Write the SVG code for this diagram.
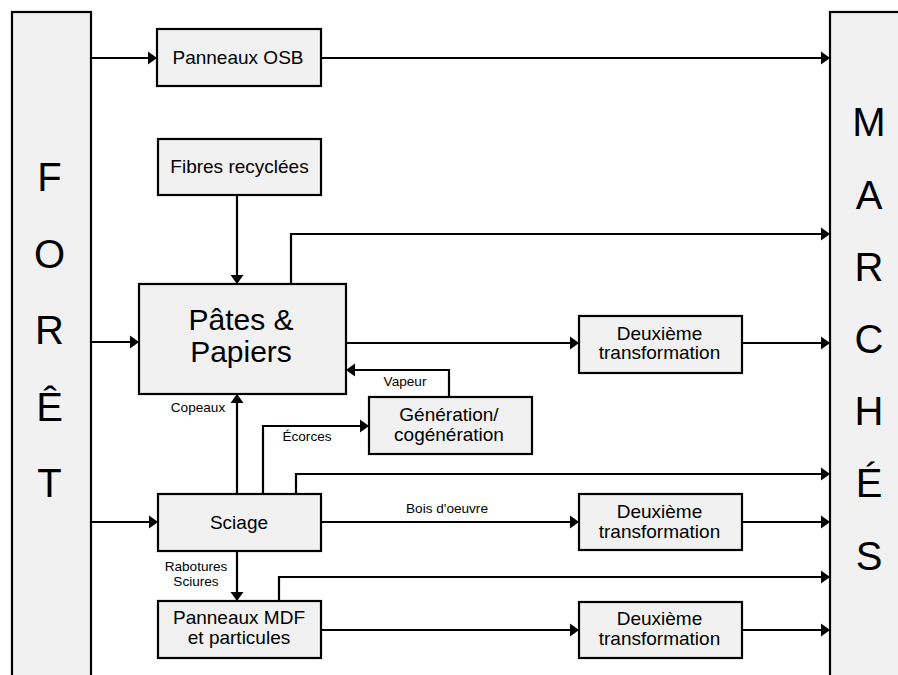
<svg xmlns="http://www.w3.org/2000/svg" width="898" height="675" viewBox="0 0 898 675">
<style>
.box{fill:#f1f1f1;stroke:#000;stroke-width:2.2}
.t{font-family:"Liberation Sans",Arial,sans-serif;fill:#000;text-anchor:middle}
.b{font-size:19px}
.s{font-size:13.6px}
.big{font-size:30px}
.col{font-size:40px}
.c{fill:none;stroke:#000;stroke-width:2.2}
</style>
<defs>
<marker id="ah" markerUnits="userSpaceOnUse" markerWidth="10" markerHeight="14" refX="9" refY="6.5" orient="auto" viewBox="0 0 10 13">
<path d="M0,0 L9,6.5 L0,13 z" fill="#000"/>
</marker>
</defs>
<rect width="898" height="675" fill="#fff"/>
<g id="foret">
<rect class="box" x="12" y="12" width="79" height="690"/>
<text class="t col" x="49.5" y="191">F</text>
<text class="t col" x="49.5" y="267.5">O</text>
<text class="t col" x="49.5" y="344">R</text>
<text class="t col" x="49.5" y="420.5">Ê</text>
<text class="t col" x="49.5" y="497">T</text>
</g>
<g id="marches">
<rect class="box" x="830" y="12" width="90" height="690"/>
<text class="t col" x="869" y="136">M</text>
<text class="t col" x="869" y="208.5">A</text>
<text class="t col" x="869" y="281">R</text>
<text class="t col" x="869" y="353">C</text>
<text class="t col" x="869" y="424.5">H</text>
<text class="t col" x="869" y="497">É</text>
<text class="t col" x="869" y="570">S</text>
</g>
<g id="connectors">
<line class="c" x1="91" y1="58" x2="157" y2="58" marker-end="url(#ah)"/>
<line class="c" x1="321" y1="58" x2="830" y2="58" marker-end="url(#ah)"/>
<line class="c" x1="237" y1="195" x2="237" y2="284" marker-end="url(#ah)"/>
<path class="c" d="M291,284 V234 H830" marker-end="url(#ah)"/>
<line class="c" x1="91" y1="342" x2="139" y2="342" marker-end="url(#ah)"/>
<line class="c" x1="346" y1="343" x2="579" y2="343" marker-end="url(#ah)"/>
<line class="c" x1="742" y1="343" x2="830" y2="343" marker-end="url(#ah)"/>
<path class="c" d="M449,397 V370 H346" marker-end="url(#ah)"/>
<path class="c" d="M263,494 V426 H369" marker-end="url(#ah)"/>
<line class="c" x1="237" y1="494" x2="237" y2="394" marker-end="url(#ah)"/>
<line class="c" x1="91" y1="522" x2="158" y2="522" marker-end="url(#ah)"/>
<path class="c" d="M296,494 V474 H830" marker-end="url(#ah)"/>
<line class="c" x1="321" y1="522" x2="579" y2="522" marker-end="url(#ah)"/>
<line class="c" x1="742" y1="522" x2="830" y2="522" marker-end="url(#ah)"/>
<line class="c" x1="237" y1="551" x2="237" y2="601" marker-end="url(#ah)"/>
<path class="c" d="M279,601 V577 H830" marker-end="url(#ah)"/>
<line class="c" x1="321" y1="630" x2="579" y2="630" marker-end="url(#ah)"/>
<line class="c" x1="742" y1="630" x2="830" y2="630" marker-end="url(#ah)"/>
<text class="t s" x="405" y="386">Vapeur</text>
<text class="t s" x="198" y="412">Copeaux</text>
<text class="t s" x="307" y="441">Écorces</text>
<text class="t s" x="447" y="513">Bois d'oeuvre</text>
<text class="t s" x="196" y="571">Rabotures</text>
<text class="t s" x="196" y="586">Sciures</text>
</g>
<g id="osb">
<rect class="box" x="157" y="29" width="164" height="57"/>
<text class="t b" x="238" y="64">Panneaux OSB</text>
</g>
<g id="fibres">
<rect class="box" x="158" y="139" width="163" height="56"/>
<text class="t b" x="239.5" y="173">Fibres recyclées</text>
</g>
<g id="pates">
<rect class="box" x="139" y="284" width="207" height="110"/>
<text class="t big" x="241" y="330">Pâtes &amp;</text>
<text class="t big" x="241" y="362">Papiers</text>
</g>
<g id="generation">
<rect class="box" x="369" y="397" width="163" height="57"/>
<text class="t b" x="449" y="421">Génération/</text>
<text class="t b" x="449" y="441">cogénération</text>
</g>
<g id="sciage">
<rect class="box" x="158" y="494" width="163" height="57"/>
<text class="t b" x="239" y="528.5">Sciage</text>
</g>
<g id="mdf">
<rect class="box" x="158" y="601" width="163" height="57"/>
<text class="t b" x="239" y="623.5">Panneaux MDF</text>
<text class="t b" x="239" y="643.5">et particules</text>
</g>
<g id="deux1">
<rect class="box" x="579" y="316" width="163" height="57"/>
<text class="t b" x="659.5" y="339.5">Deuxième</text>
<text class="t b" x="659.5" y="359">transformation</text>
</g>
<g id="deux2">
<rect class="box" x="579" y="494" width="163" height="56"/>
<text class="t b" x="659.5" y="517.5">Deuxième</text>
<text class="t b" x="659.5" y="537.5">transformation</text>
</g>
<g id="deux3">
<rect class="box" x="579" y="602" width="163" height="56"/>
<text class="t b" x="659.5" y="625">Deuxième</text>
<text class="t b" x="659.5" y="645">transformation</text>
</g>
</svg>
